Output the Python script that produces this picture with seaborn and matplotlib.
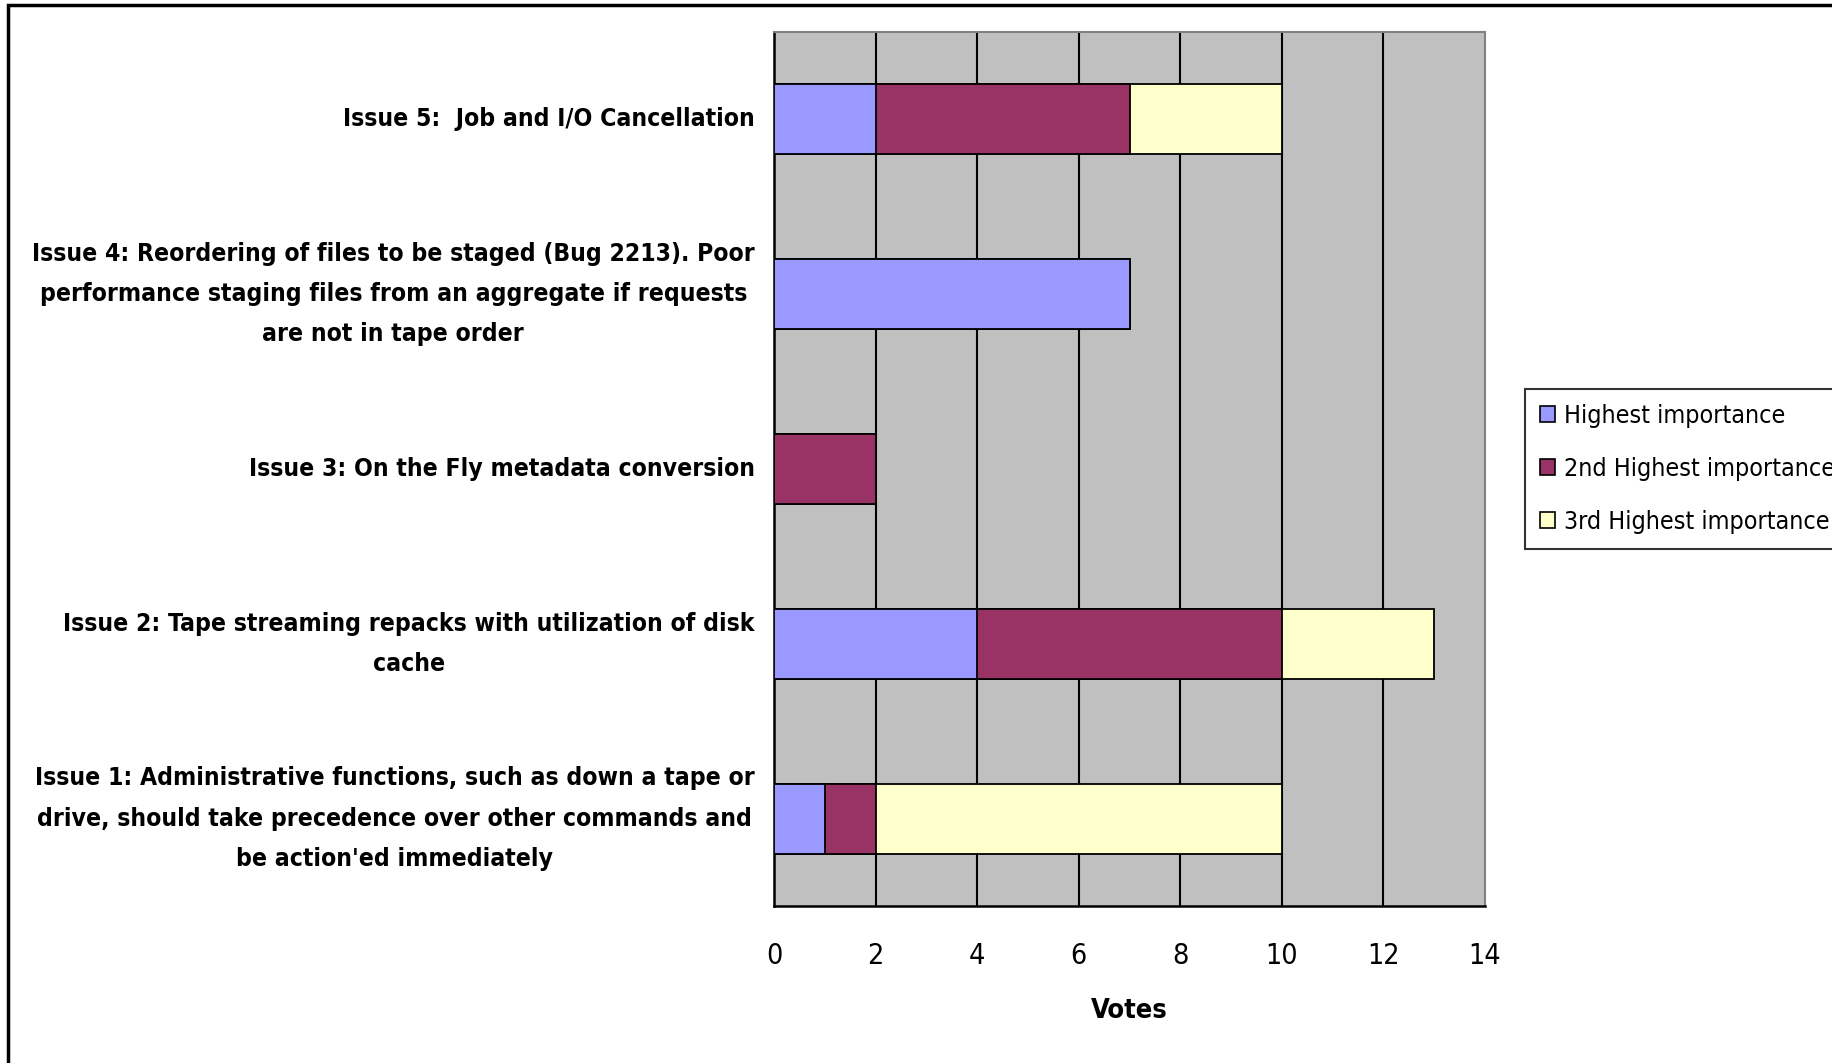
import matplotlib
matplotlib.use("Agg")
import pandas as pd
import seaborn as sns
from matplotlib import pyplot as plt
from matplotlib.patches import Patch, Rectangle

issues = [
    "Issue 5:  Job and I/O Cancellation",
    "Issue 4: Reordering of files to be staged (Bug 2213). Poor\n"
    "performance staging files from an aggregate if requests\n"
    "are not in tape order",
    "Issue 3: On the Fly metadata conversion",
    "Issue 2: Tape streaming repacks with utilization of disk\ncache",
    "Issue 1: Administrative functions, such as down a tape or\n"
    "drive, should take precedence over other commands and\n"
    "be action'ed immediately",
]
highest = [2, 7, 0, 4, 1]
second = [5, 0, 2, 6, 1]
third = [3, 0, 0, 3, 8]

series_names = ["Highest importance", "2nd Highest importance", "3rd Highest importance"]
series_colors = ["#9999FF", "#993366", "#FFFFCC"]
x_ticks = [0, 2, 4, 6, 8, 10, 12, 14]

sns.set_style("white")
plt.rcParams["font.family"] = ["DejaVu Sans"]
plt.rcParams["font.stretch"] = "condensed"
plt.rcParams["text.color"] = "black"
plt.rcParams["axes.labelcolor"] = "black"
plt.rcParams["xtick.color"] = "black"
plt.rcParams["ytick.color"] = "black"

df = pd.DataFrame({"issue": issues, "h": highest, "s": second, "t": third})
df["cum1"] = df["h"]
df["cum2"] = df["h"] + df["s"]
df["cum3"] = df["cum2"] + df["t"]

fig = plt.figure(figsize=(18.32, 10.63), dpi=100)
ax = fig.add_axes([0.4225, 0.1477, 0.8106 - 0.4225, 0.9699 - 0.1477])
ax.set_facecolor("#C0C0C0")

# draw stacked bars back to front: longest cumulative first
for col, color in zip(["cum3", "cum2", "cum1"], series_colors[::-1]):
    sns.barplot(
        data=df, x=col, y="issue", orient="h", order=issues,
        color=color, width=0.4, edgecolor="black", linewidth=1.3,
        saturation=1, ax=ax, zorder=3,
    )

ax.set_xlim(0, 14)
ax.set_ylim(4.5, -0.5)
ax.set_xticks(x_ticks)
ax.set_xticklabels([str(v) for v in x_ticks], fontsize=20.5)
for v in x_ticks[1:-1]:
    ax.axvline(v, color="black", lw=1.5, zorder=1)

ax.set_yticks(range(len(issues)))
ax.set_yticklabels(issues, fontsize=17.7, fontweight="bold", multialignment="center",
                   linespacing=1.85)
for lbl in ax.get_yticklabels():
    lbl.set_verticalalignment("center")
ax.set_yticks([i - 0.5 for i in range(len(issues) + 1)], minor=True)
ax.tick_params(axis="y", which="major", length=0, pad=14)
ax.tick_params(axis="y", which="minor", length=7, width=1.5, color="black", direction="out")
ax.tick_params(axis="x", length=10, width=1.5, color="black", direction="out", pad=16)
ax.set_ylabel("")
ax.set_xlabel("Votes", fontsize=19.5, fontweight="bold", labelpad=20)

for side in ["left", "bottom"]:
    ax.spines[side].set_color("black")
    ax.spines[side].set_linewidth(1.8)
for side in ["top", "right"]:
    ax.spines[side].set_visible(True)
    ax.spines[side].set_color("#808080")
    ax.spines[side].set_linewidth(1.5)

handles = [Patch(facecolor=c, edgecolor="black", lw=1.2) for c in series_colors]
leg = fig.legend(
    handles, series_names, loc="upper left", bbox_to_anchor=(0.8324, 0.634),
    fontsize=18, frameon=True, fancybox=False, handlelength=0.6, handleheight=0.6,
    handletextpad=0.35, borderpad=0.6, labelspacing=1.15, borderaxespad=0,
)
leg.get_frame().set_edgecolor("black")
leg.get_frame().set_linewidth(1.5)

fig.add_artist(Rectangle((8 / 1832, -0.05), 1.2, 1 - 5 / 1063 + 0.05,
                         transform=fig.transFigure, fill=False, lw=2.5,
                         edgecolor="black"))

fig.savefig("out.png", dpi=100)
